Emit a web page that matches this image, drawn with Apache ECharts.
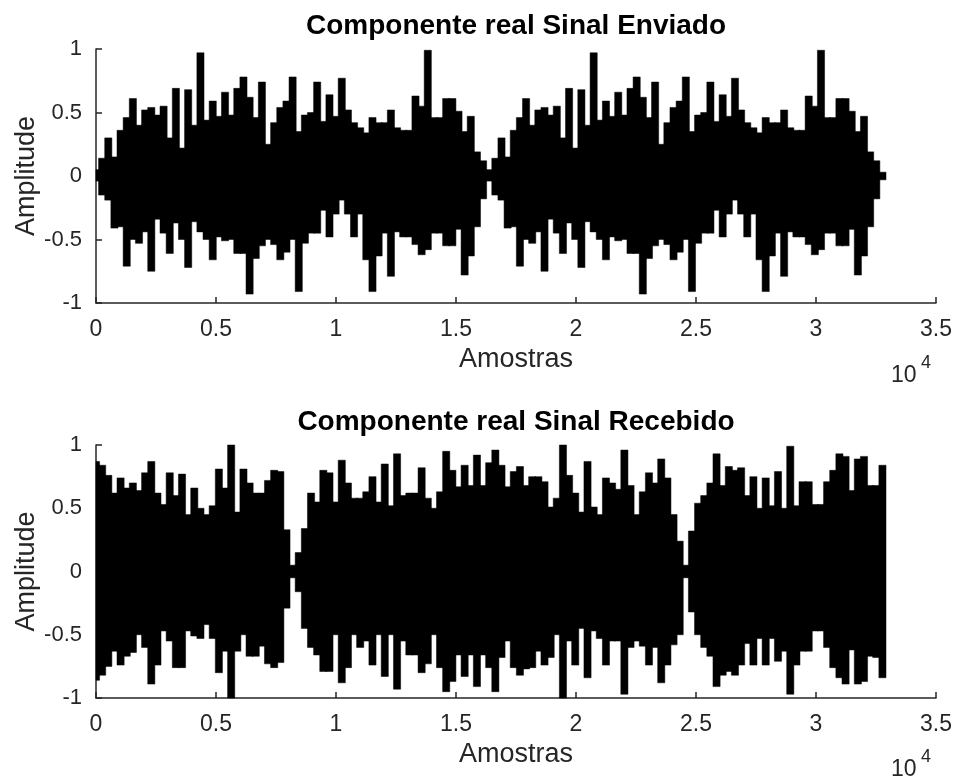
<!DOCTYPE html>
<html>
<head>
<meta charset="utf-8">
<title>Componente real</title>
<script src="https://cdn.jsdelivr.net/npm/echarts@6/dist/echarts.min.js"></script>
<style>
  html, body { margin: 0; padding: 0; background: #fff; }
  #chart { width: 955px; height: 780px; }
</style>
</head>
<body>
<div id="chart"></div>
<script>
// each point is one bin of 256 samples: upper and lower envelope of the signal
const BIN = 256;
const xTicks = [0, 5000, 10000, 15000, 20000, 25000, 30000, 35000];
const yTicks = [-1, -0.5, 0, 0.5, 1];

// Sinal Enviado (the frame of 16384 samples appears twice)
const sentHi = [
  0.05, 0.14, 0.30, 0.15, 0.36, 0.46, 0.61, 0.40, 0.52, 0.54, 0.48, 0.55, 0.30, 0.69, 0.22, 0.68,
  0.40, 0.97, 0.44, 0.59, 0.47, 0.66, 0.48, 0.69, 0.78, 0.62, 0.46, 0.74, 0.25, 0.42, 0.54, 0.59,
  0.78, 0.35, 0.48, 0.50, 0.74, 0.43, 0.64, 0.47, 0.77, 0.52, 0.42, 0.38, 0.34, 0.46, 0.42, 0.42,
  0.52, 0.38, 0.36, 0.36, 0.63, 0.55, 0.99, 0.46, 0.46, 0.61, 0.61, 0.51, 0.35, 0.47, 0.19, 0.12,
  0.05, 0.14, 0.30, 0.15, 0.36, 0.46, 0.61, 0.40, 0.52, 0.54, 0.48, 0.55, 0.30, 0.69, 0.22, 0.68,
  0.40, 0.97, 0.44, 0.59, 0.47, 0.66, 0.48, 0.69, 0.78, 0.62, 0.46, 0.74, 0.25, 0.42, 0.54, 0.59,
  0.78, 0.35, 0.48, 0.50, 0.74, 0.43, 0.64, 0.47, 0.77, 0.52, 0.42, 0.38, 0.34, 0.46, 0.42, 0.42,
  0.52, 0.38, 0.36, 0.36, 0.63, 0.55, 0.99, 0.46, 0.46, 0.61, 0.61, 0.51, 0.35, 0.47, 0.19, 0.12,
  0.03
];
const sentLo = [
  -0.04, -0.15, -0.19, -0.41, -0.40, -0.71, -0.50, -0.53, -0.44, -0.75, -0.34, -0.45, -0.61, -0.37, -0.50, -0.72,
  -0.36, -0.44, -0.50, -0.66, -0.48, -0.51, -0.50, -0.61, -0.61, -0.93, -0.65, -0.55, -0.50, -0.54, -0.66, -0.60,
  -0.50, -0.91, -0.53, -0.45, -0.45, -0.27, -0.48, -0.30, -0.19, -0.30, -0.48, -0.30, -0.66, -0.91, -0.63, -0.45,
  -0.79, -0.44, -0.48, -0.48, -0.54, -0.62, -0.58, -0.45, -0.45, -0.55, -0.55, -0.42, -0.78, -0.63, -0.40, -0.18,
  -0.04, -0.15, -0.19, -0.41, -0.40, -0.71, -0.50, -0.53, -0.44, -0.75, -0.34, -0.45, -0.61, -0.37, -0.50, -0.72,
  -0.36, -0.44, -0.50, -0.66, -0.48, -0.51, -0.50, -0.61, -0.61, -0.93, -0.65, -0.55, -0.50, -0.54, -0.66, -0.60,
  -0.50, -0.91, -0.53, -0.45, -0.45, -0.27, -0.48, -0.30, -0.19, -0.30, -0.48, -0.30, -0.66, -0.91, -0.63, -0.45,
  -0.79, -0.44, -0.48, -0.48, -0.54, -0.62, -0.58, -0.45, -0.45, -0.55, -0.55, -0.42, -0.78, -0.63, -0.40, -0.18,
  -0.03
];

// Sinal Recebido
const recvHi = [
  0.87, 0.84, 0.76, 0.62, 0.74, 0.66, 0.70, 0.64, 0.78, 0.87, 0.62, 0.53, 0.78, 0.60, 0.77, 0.45,
  0.66, 0.50, 0.45, 0.52, 0.81, 0.66, 1.00, 0.47, 0.81, 0.70, 0.62, 0.62, 0.72, 0.80, 0.79, 0.33,
  0.05, 0.15, 0.34, 0.62, 0.55, 0.80, 0.78, 0.55, 0.88, 0.70, 0.58, 0.58, 0.63, 0.75, 0.55, 0.85,
  0.52, 0.93, 0.60, 0.62, 0.62, 0.82, 0.58, 0.50, 0.63, 0.95, 0.80, 0.67, 0.84, 0.68, 0.92, 0.68,
  0.86, 0.96, 0.84, 0.67, 0.79, 0.83, 0.68, 0.75, 0.75, 0.71, 0.51, 0.58, 1.00, 0.76, 0.62, 0.47,
  0.87, 0.51, 0.45, 0.74, 0.70, 0.65, 0.96, 0.68, 0.45, 0.63, 0.78, 0.70, 0.89, 0.74, 0.45, 0.24,
  0.05, 0.32, 0.54, 0.60, 0.70, 0.93, 0.68, 0.83, 0.80, 0.82, 0.60, 0.75, 0.50, 0.74, 0.52, 0.79,
  0.50, 0.99, 0.52, 0.71, 0.71, 0.53, 0.53, 0.71, 0.80, 0.93, 0.91, 0.64, 0.89, 0.91, 0.68, 0.68,
  0.84
];
const recvLo = [
  -0.86, -0.82, -0.75, -0.63, -0.74, -0.67, -0.64, -0.50, -0.60, -0.89, -0.74, -0.47, -0.55, -0.76, -0.76, -0.47,
  -0.51, -0.53, -0.42, -0.53, -0.80, -0.63, -1.00, -0.63, -0.50, -0.67, -0.67, -0.59, -0.73, -0.76, -0.72, -0.29,
  -0.05, -0.16, -0.45, -0.60, -0.66, -0.79, -0.79, -0.50, -0.88, -0.76, -0.50, -0.60, -0.55, -0.74, -0.50, -0.83,
  -0.50, -0.93, -0.55, -0.66, -0.66, -0.80, -0.73, -0.50, -0.76, -0.95, -0.87, -0.66, -0.83, -0.66, -0.91, -0.66,
  -0.76, -0.95, -0.68, -0.55, -0.76, -0.82, -0.77, -0.76, -0.63, -0.74, -0.68, -0.50, -1.00, -0.55, -0.74, -0.45,
  -0.84, -0.47, -0.53, -0.74, -0.55, -0.55, -0.97, -0.60, -0.55, -0.59, -0.74, -0.60, -0.88, -0.74, -0.58, -0.50,
  -0.05, -0.32, -0.50, -0.60, -0.67, -0.91, -0.82, -0.79, -0.82, -0.74, -0.57, -0.74, -0.53, -0.74, -0.53, -0.71,
  -0.63, -0.97, -0.74, -0.63, -0.63, -0.47, -0.47, -0.60, -0.76, -0.84, -0.89, -0.62, -0.89, -0.87, -0.67, -0.68,
  -0.84
];

const FONT = 'Liberation Sans';
const AX = '#262626';

const toData = (hi, lo) => hi.map((h, i) => [i * BIN, h, lo[i]]);

// one black block per bin, from the lower to the upper envelope
const renderBin = (params, api) => {
  const x = api.value(0);
  const p0 = api.coord([x - BIN / 2, api.value(1)]);
  const p1 = api.coord([x + BIN / 2, api.value(2)]);
  const rect = echarts.graphic.clipRectByRect({
    x: p0[0] - 0.5, y: p0[1], width: p1[0] - p0[0] + 1, height: p1[1] - p0[1]
  }, params.coordSys);
  return rect && { type: 'rect', shape: rect, style: { fill: '#000', stroke: '#000', lineWidth: 0.5 } };
};

const xAxisFor = (idx) => ({
  type: 'value', gridIndex: idx, min: xTicks[0], max: xTicks[xTicks.length - 1],
  interval: xTicks[1] - xTicks[0],
  name: 'Amostras', nameLocation: 'middle', nameGap: 43, nameMoveOverlap: false,
  nameTextStyle: { fontFamily: FONT, fontSize: 27, color: AX },
  axisLine: { onZero: false, lineStyle: { color: AX, width: 1.5 } },
  axisTick: { inside: true, length: 6, lineStyle: { color: AX, width: 1.5 } },
  axisLabel: { fontFamily: FONT, fontSize: 23, color: AX, margin: 15, formatter: (v) => String(v / 10000) },
  splitLine: { show: false }
});
const yAxisFor = (idx) => ({
  type: 'value', gridIndex: idx, min: yTicks[0], max: yTicks[yTicks.length - 1], interval: 0.5,
  name: 'Amplitude', nameLocation: 'middle', nameGap: 56, nameRotate: 90, nameMoveOverlap: false,
  nameTextStyle: { fontFamily: FONT, fontSize: 27, color: AX },
  axisLine: { show: true, onZero: false, lineStyle: { color: AX, width: 1.5 } },
  axisTick: { show: true, inside: true, length: 6, lineStyle: { color: AX, width: 1.5 } },
  axisLabel: { fontFamily: FONT, fontSize: 22, color: AX, margin: 14 },
  splitLine: { show: false }
});

const titleStyle = { fontFamily: FONT, fontSize: 28, fontWeight: 'bold', color: '#000' };
const expText = (top) => [
  { type: 'text', left: 891, top: top, style: { text: '10', font: '23px "Liberation Sans"', fill: AX } },
  { type: 'text', left: 921, top: top - 10, style: { text: '4', font: '18px "Liberation Sans"', fill: AX } }
];

const chart = echarts.init(document.getElementById('chart'));
chart.setOption({
  animation: false,
  backgroundColor: '#fff',
  title: [
    { text: 'Componente real Sinal Enviado', left: 511, top: 7, textAlign: 'center', textStyle: titleStyle },
    { text: 'Componente real Sinal Recebido', left: 511, top: 403, textAlign: 'center', textStyle: titleStyle }
  ],
  grid: [
    { left: 96, width: 840, top: 49, height: 254, containLabel: false, outerBoundsMode: 'none' },
    { left: 96, width: 840, top: 445, height: 253, containLabel: false, outerBoundsMode: 'none' }
  ],
  xAxis: [xAxisFor(0), xAxisFor(1)],
  yAxis: [yAxisFor(0), yAxisFor(1)],
  graphic: [...expText(364), ...expText(758)],
  series: [
    { type: 'custom', name: 'Enviado', xAxisIndex: 0, yAxisIndex: 0, renderItem: renderBin,
      encode: { x: 0, y: [1, 2] }, data: toData(sentHi, sentLo) },
    { type: 'custom', name: 'Recebido', xAxisIndex: 1, yAxisIndex: 1, renderItem: renderBin,
      encode: { x: 0, y: [1, 2] }, data: toData(recvHi, recvLo) }
  ]
});
</script>
</body>
</html>
